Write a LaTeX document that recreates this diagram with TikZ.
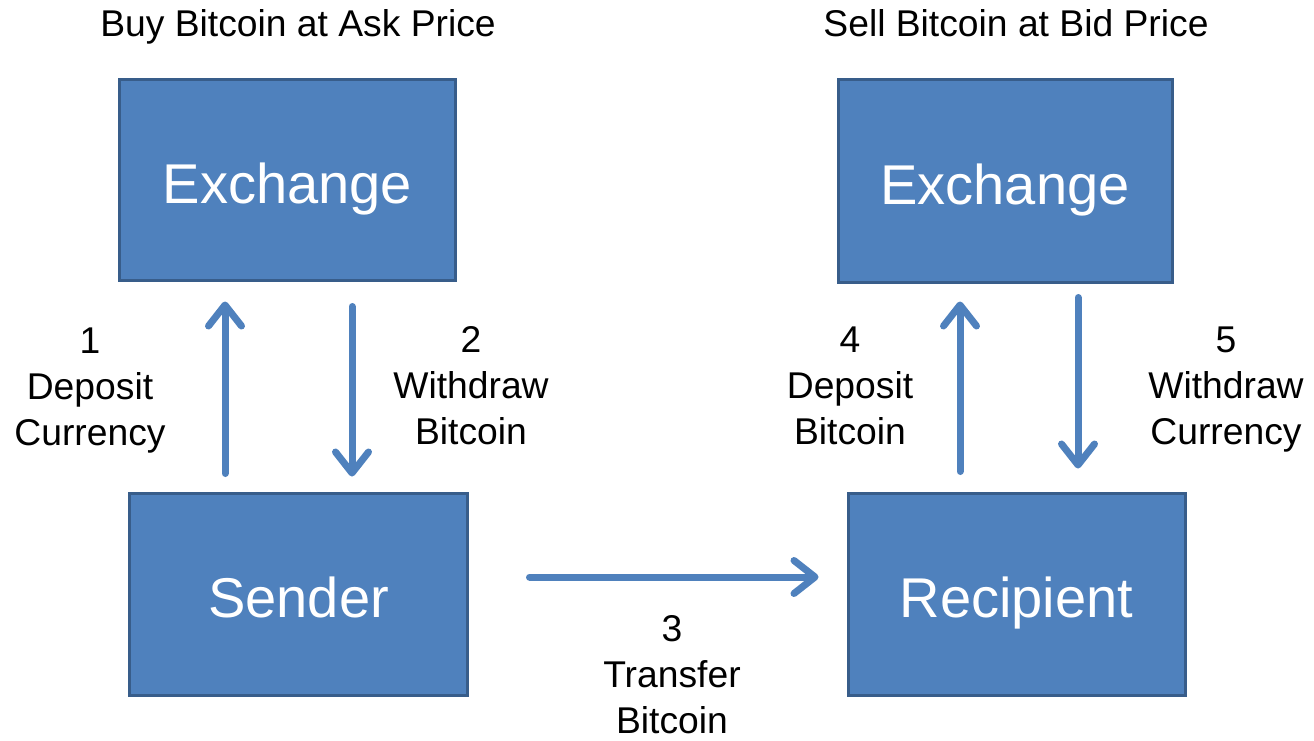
\documentclass[tikz,border=0pt]{standalone}
\usepackage{fontspec}
\setmainfont{Liberation Sans}
\usepackage{tikz}
\usetikzlibrary{arrows.meta, positioning}
\usepackage{xcolor}
\definecolor{boxfill}{RGB}{79,129,189}
\definecolor{boxline}{RGB}{56,93,138}
\begin{document}
\begin{tikzpicture}[x=0.2mm, y=-0.2mm,
  party/.style={draw=boxline, fill=boxfill, line width=0.6mm, text=white,
    font=\fontsize{31.9}{36}\selectfont, inner sep=0pt, text height=33pt, text depth=6.7pt},
  step label/.style={align=center, font=\fontsize{21.2}{26.2}\selectfont},
  flow/.style={draw=boxfill, line width=1.4mm, line cap=round,
    -{Straight Barb[length=4.2mm, width=6.6mm, round]}}]
  \useasboundingbox (0,0) rectangle (1314,740);
  % the four parties
  \node[party, minimum width=67mm, minimum height=40mm] (exbuy) at (287.5,180) {Exchange};
  \node[party, minimum width=66.8mm, minimum height=40.4mm] (exsell) at (1005,181) {Exchange};
  \node[party, minimum width=67.4mm, minimum height=40.4mm] (sender) at (298.5,594) {Sender};
  \node[party, minimum width=67.4mm, minimum height=40.4mm] (recip) at (1016.5,594) {Recipient};
  % headings
  \node[step label, anchor=base] (buyhead) at (298,37) {Buy Bitcoin at Ask Price};
  \node[step label, anchor=base] (sellhead) at (1016,37) {Sell Bitcoin at Bid Price};
  % flows
  \draw[flow, shorten <=3.6mm, shorten >=4mm] (sender.north -| 225,0) -- (exbuy.south -| 225,0);
  \draw[flow, shorten <=5mm, shorten >=3mm] (exbuy.south -| 352,0) -- (sender.north -| 352,0);
  \draw[flow, shorten <=12.2mm, shorten >=5.6mm] (sender.east |- 0,577) -- (recip.west |- 0,577);
  \draw[flow, shorten <=4mm, shorten >=3.6mm] (recip.north -| 960,0) -- (exsell.south -| 960,0);
  \draw[flow, shorten <=2.8mm, shorten >=4.6mm] (exsell.south -| 1078,0) -- (recip.north -| 1078,0);
  % step labels
  \node[step label] (lbl1) at (90,391) {1\\Deposit\\Currency};
  \node[step label] (lbl2) at (471,386) {2\\Withdraw\\Bitcoin};
  \node[step label] (lbl3) at (672,675) {3\\Transfer\\Bitcoin};
  \node[step label] (lbl4) at (850,386) {4\\Deposit\\Bitcoin};
  \node[step label] (lbl5) at (1226,390) {5\\Withdraw\\Currency};
\end{tikzpicture}
\end{document}
